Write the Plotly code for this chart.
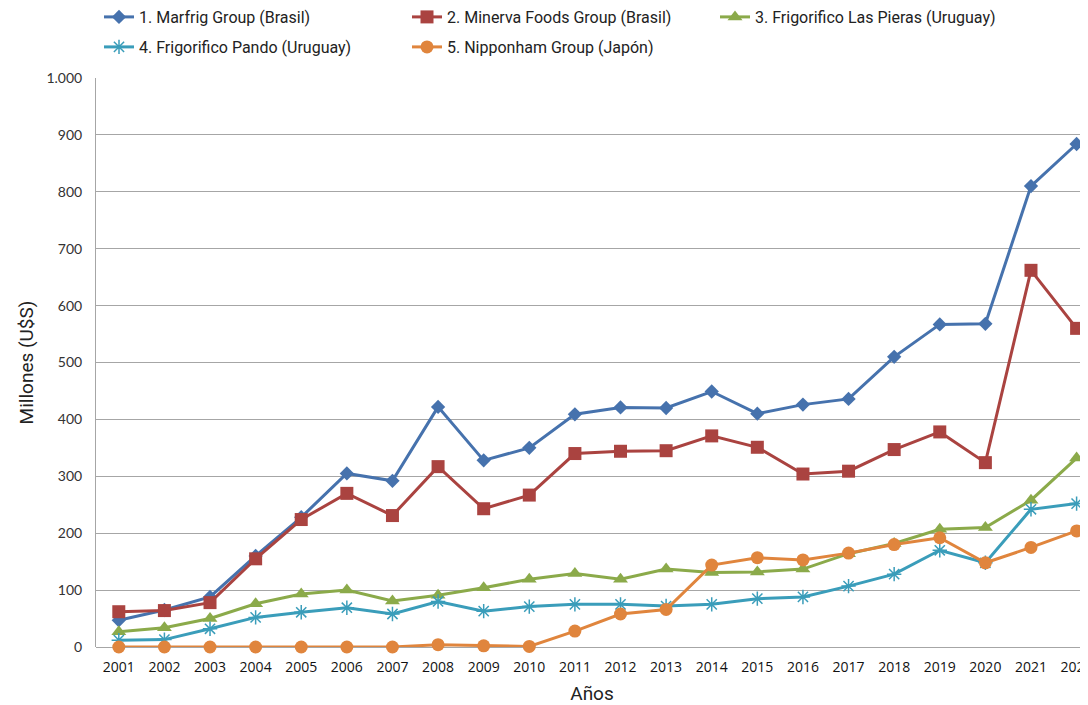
import plotly.graph_objects as go

years = [str(y) for y in range(2001, 2023)]

marfrig = [47, 65, 88, 160, 228, 305, 292, 422, 328, 350, 409, 421, 420, 449, 410, 426, 436, 510, 567, 568, 810, 884]
minerva = [62, 64, 78, 155, 224, 270, 231, 317, 243, 267, 340, 344, 345, 371, 351, 304, 309, 347, 378, 324, 662, 560]
las_pieras = [27, 34, 50, 76, 93, 100, 81, 91, 104, 119, 129, 119, 137, 131, 132, 137, 164, 182, 207, 210, 258, 332]
pando = [12, 13, 32, 52, 61, 69, 58, 80, 63, 71, 75, 75, 72, 75, 85, 88, 107, 128, 170, 148, 242, 252]
nipponham = [0, 0, 0, 0, 0, 0, 0, 4, 2, 1, 28, 58, 66, 144, 157, 153, 165, 180, 192, 148, 175, 204]

names = [
    "1. Marfrig Group (Brasil)",
    "2. Minerva Foods Group (Brasil)",
    "3. Frigorifico Las Pieras (Uruguay)",
    "4. Frigorifico Pando (Uruguay)",
    "5. Nipponham Group (Japón)",
]
series = [marfrig, minerva, las_pieras, pando, nipponham]
colors = ["#4672AD", "#AA4340", "#8BAA4A", "#3A9DBA", "#E0853D"]
symbols = ["diamond", "square", "triangle-up", "asterisk-open", "circle"]
sizes = [11, 13, 13, 12, 13]
legend_ids = ["legend", "legend", "legend", "legend2", "legend2"]

fig = go.Figure()
for name, vals, col, sym, sz, lg in zip(names, series, colors, symbols, sizes, legend_ids):
    marker = dict(symbol=sym, size=sz, color=col)
    if sym == "asterisk-open":
        marker["line"] = dict(color=col, width=1.5)
    fig.add_trace(go.Scatter(
        x=years, y=vals, name=name, mode="lines+markers", legend=lg,
        line=dict(color=col, width=3), marker=marker, cliponaxis=False,
    ))

W, H = 1080, 697  # page adds an 8px body margin

legend_common = dict(
    orientation="h", xref="container", yref="container",
    x=91 / W, xanchor="left", yanchor="middle",
    entrywidth=263, entrywidthmode="pixels",
    font=dict(family="Roboto", size=16, color="#222222"),
    itemwidth=30, bgcolor="rgba(0,0,0,0)",
)

fig.update_layout(
    width=W, height=H,
    margin=dict(l=88, r=0, t=70, b=58, autoexpand=False),
    paper_bgcolor="white", plot_bgcolor="white",
    separators=",.",
    font=dict(family="Roboto", color="#333333"),
    legend=dict(legend_common, y=1 - 9 / H),
    legend2=dict(legend_common, y=1 - 39 / H),
    xaxis=dict(
        type="category", range=[-0.5, 21.25],
        showgrid=False, showline=False, ticks="",
        tickfont=dict(family="Open Sans", size=14, color="#111111"),
        ticklabelstandoff=10,
        title=dict(text="Años", font=dict(family="Roboto", size=19, color="#222222"), standoff=14),
    ),
    yaxis=dict(
        range=[0, 1000], dtick=100, tickformat=",",
        showgrid=True, gridcolor="#A6A6A6", gridwidth=1,
        showline=True, linecolor="#A6A6A6", linewidth=1,
        zeroline=True, zerolinecolor="#A6A6A6", zerolinewidth=1,
        tickfont=dict(family="Lato", size=14, color="#333333"),
        ticklabelstandoff=10,
        title=dict(text="Millones (U$S)", font=dict(family="Roboto", size=19, color="#222222"), standoff=7),
    ),
)

fig.write_html("out.html")
